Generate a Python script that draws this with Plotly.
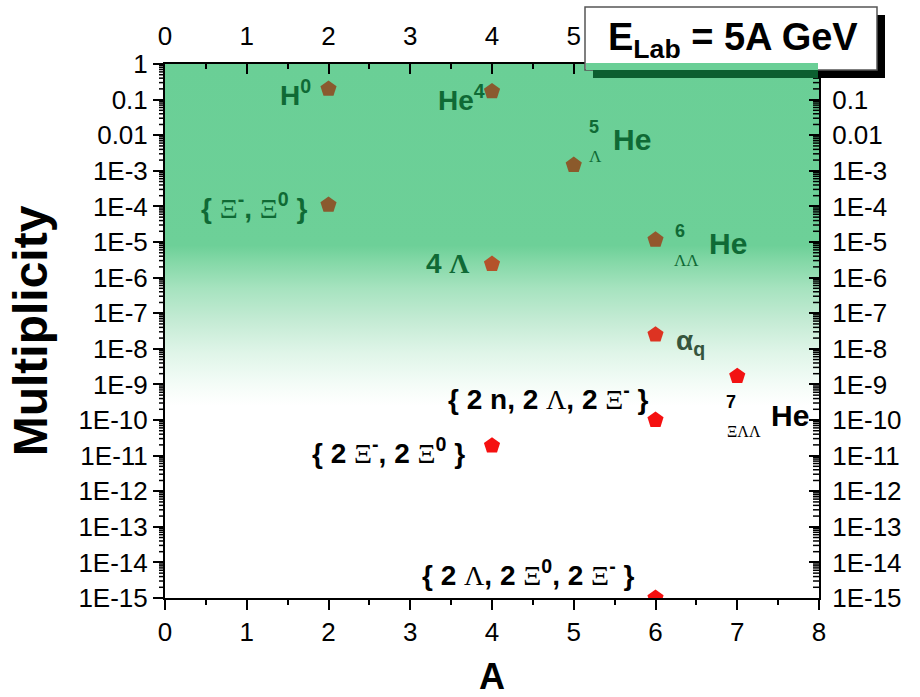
import base64
import numpy as np
import plotly.graph_objects as go

# ---- data -------------------------------------------------------------
A = [2, 4, 2, 5, 6, 4, 6, 7, 6, 4, 6]
multiplicity = [0.2, 0.17, 1.1e-4, 1.45e-3, 1.15e-5, 2.4e-6,
                2.5e-8, 1.7e-9, 1.0e-10, 1.9e-11, 1.0e-15]
species = ["H0", "He4", "Xi-Xi0", "He5_L", "He6_LL", "4Lambda",
           "alpha_q", "He7_XiLL", "2n2L2Xi", "2Xi-2Xi0", "2L2Xi02Xi-"]
marker_colors = ["#8a5a2e", "#8a5a2e", "#8a5a2e", "#8b5a2b", "#93572d",
                 "#b4532a", "#dd3322", "#f21212", "#f51010", "#f51010",
                 "#f51010"]

# decade labels: plotly writes 1E−3 with a true minus sign, show it as "-"
y_label_alias = {f"1E\u2212{k}": f"1E-{k}" for k in range(3, 16)}
x_tickvals = list(range(0, 9))
Y_MIN_EXP, Y_MAX_EXP = -15, 0

# ---- figure geometry (pixels) ------------------------------------------
W, H = 920, 697
L, R, T, B = 165, 819, 64, 598
PW, PH = R - L, B - T


def px_x(p):
    return (p - L) / PW


def px_y(p):
    return (B - p) / PH


FONT = "Arial, Liberation Sans, sans-serif"
DG = "#0f6a35"      # dark green text


def greek(s, bold=False):
    st = "font-family:Liberation Serif" + ("" if bold else ";font-weight:normal")
    return f'<span style="{st}">{s}</span>'


fig = go.Figure()
fig.add_trace(go.Scatter(
    x=A, y=multiplicity, mode="markers", text=species,
    marker=dict(symbol="pentagon", size=17, color=marker_colors,
                line=dict(width=0)),
    showlegend=False, hoverinfo="text+x+y"))
# carrier trace for the top / right axes
fig.add_trace(go.Scatter(x=[None], y=[None], xaxis="x2", yaxis="y2",
                         showlegend=False, hoverinfo="skip"))

# ---- vertical green background gradient --------------------------------
stops = [(0.00, "#6acf96"), (0.34, "#6dd098"), (0.37, "#84d8a7"),
         (0.42, "#a6e3bf"), (0.48, "#c4ebd4"), (0.54, "#dff5e8"),
         (0.60, "#f4fcf7"), (0.64, "#ffffff"), (1.00, "#ffffff")]
stop_xml = "".join(f'<stop offset="{o}" stop-color="{c}"/>' for o, c in stops)
svg = (f'<svg xmlns="http://www.w3.org/2000/svg" width="{PW}" height="{PH}" '
       f'viewBox="0 0 {PW} {PH}" preserveAspectRatio="none"><defs>'
       f'<linearGradient id="g" x1="0" y1="0" x2="0" y2="1">{stop_xml}'
       f'</linearGradient></defs><rect width="{PW}" height="{PH}" '
       f'fill="url(#g)"/></svg>')
src = "data:image/svg+xml;base64," + base64.b64encode(svg.encode()).decode()
fig.add_layout_image(dict(source=src, xref="paper", yref="paper", x=0, y=1,
                          sizex=1, sizey=1, xanchor="left", yanchor="top",
                          sizing="stretch", layer="below"))

# ---- sub-decade (2..9) tick combs on the left (out) and right (in) -------
MINOR_LEN = 6
for e in range(Y_MIN_EXP, Y_MAX_EXP):
    for m in range(2, 10):
        f = (np.log10(m * 10.0 ** e) - Y_MIN_EXP) / (Y_MAX_EXP - Y_MIN_EXP)
        for x0, x1 in [(-MINOR_LEN / PW, 0.0), (1.0 - MINOR_LEN / PW, 1.0)]:
            fig.add_shape(type="line", xref="paper", yref="paper",
                          x0=x0, x1=x1, y0=f, y1=f, layer="above",
                          line=dict(color="black", width=1.5))


# ---- energy box with drop shadow ---------------------------------------
def rect(x0, y0, x1, y1, fill, line=None, lw=0):
    fig.add_shape(type="rect", xref="paper", yref="paper", layer="above",
                  x0=px_x(x0), x1=px_x(x1), y0=px_y(y1), y1=px_y(y0),
                  fillcolor=fill,
                  line=dict(color=line or fill, width=lw))


rect(593, 15, 885, 78, "black")
rect(585, 7, 877, 70, "white", "#555555", 1.5)
rect(586, 63, R - 1, 70, "#6acf96")
rect(593, 70, R - 1, 78, "#0c5f30")

fig.add_annotation(xref="paper", yref="paper", x=px_x(733), y=px_y(40),
                   xanchor="center", yanchor="middle",
                   text="E<sub>Lab</sub> = 5A GeV", showarrow=False,
                   font=dict(family=FONT, size=38, color="black",
                             weight="bold"))


# ---- point labels ------------------------------------------------------
def label(i, text, xs, ys, anchor="center", color="black", size=28,
          weight="bold"):
    fig.add_annotation(x=A[i], y=np.log10(multiplicity[i]), text=text,
                       showarrow=False, xanchor=anchor, yanchor="middle",
                       xshift=xs, yshift=ys,
                       font=dict(family=FONT, size=size, color=color,
                                 weight=weight))


label(0, "H<sup>0</sup>", -16, -4, "right", DG)
label(1, "He<sup>4</sup>", -5, -7, "right", DG)
label(2, "{ " + greek("Ξ") + "<sup>-</sup>, " + greek("Ξ") + "<sup>0</sup> }",
      -20, -1, "right", DG)
label(3, "5", 20, 38, "center", DG, 18)
label(3, greek("Λ"), 22, 9, "center", DG, 17)
label(3, "He", 37, 26, "left", DG, 30)
label(4, "6", 24, 9, "center", DG, 18)
label(4, greek("ΛΛ"), 31, -21, "center", DG, 17)
label(4, "He", 51, -4, "left", DG, 30)
label(5, "4 " + greek("Λ", bold=True), -21, 1, "right", DG, 28)
label(6, "α<sub>q</sub>", 18, -8, "left", "#35553d", 28)
label(7, "7", -6, -26, "center", "black", 18)
label(7, greek("ΞΛΛ"), 7, -55, "center", "black", 16)
label(7, "He", 32, -39, "left", "black", 30)
label(8, "{ 2 n, 2 " + greek("Λ") + ", 2 " + greek("Ξ") + "<sup>-</sup> }",
      -5, 23, "right")
label(9, "{ 2 " + greek("Ξ") + "<sup>-</sup>, 2 " + greek("Ξ") + "<sup>0</sup> }",
      -25, -5, "right")
label(10, "{ 2 " + greek("Λ") + ", 2 " + greek("Ξ") + "<sup>0</sup>, 2 "
      + greek("Ξ") + "<sup>-</sup> }", -20, 25, "right")

# ---- axes ----------------------------------------------------------------
tickfont = dict(family=FONT, size=26, color="black")
common_x = dict(range=[0, 8], tickmode="array", tickvals=x_tickvals,
                showline=True, linewidth=2, linecolor="black",
                showgrid=False, zeroline=False, ticklen=10, tickwidth=2,
                tickcolor="black", tickfont=tickfont, automargin=False)
common_y = dict(type="log", range=[Y_MIN_EXP, Y_MAX_EXP], tickmode="linear",
                tick0=0, dtick=1, exponentformat="E",
                labelalias=y_label_alias,
                showline=True, linewidth=2, linecolor="black",
                showgrid=False, zeroline=False, ticklen=10, tickwidth=2,
                tickcolor="black", tickfont=tickfont, automargin=False)
minor_x = dict(dtick=0.5, ticklen=5, tickwidth=1.5, tickcolor="black",
               showgrid=False)

fig.update_layout(
    width=W, height=H, margin=dict(l=L, r=W - R, t=T, b=H - B),
    paper_bgcolor="white", plot_bgcolor="rgba(0,0,0,0)",
    xaxis=dict(**common_x, ticks="outside",
               minor=dict(**minor_x, ticks="outside"),
               title=dict(text="<b>A</b>", standoff=22,
                          font=dict(family=FONT, size=36, color="black"))),
    xaxis2=dict(**common_x, ticks="inside", overlaying="x", side="top",
                anchor="y", ticklabelstandoff=7,
                minor=dict(**minor_x, ticks="inside")),
    yaxis=dict(**common_y, ticks="outside",
               title=dict(text="<b>Multiplicity</b>", standoff=16,
                          font=dict(family=FONT, size=48, color="black"))),
    yaxis2=dict(**common_y, ticks="inside", overlaying="y", side="right",
                anchor="x", ticklabelstandoff=6),
)

fig.write_html("out.html")
